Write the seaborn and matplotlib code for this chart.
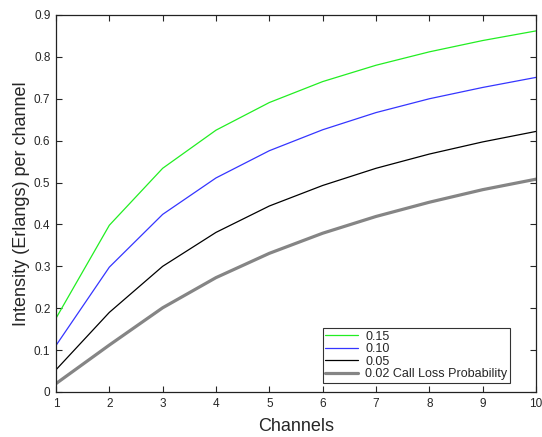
import numpy as np
import pandas as pd
import seaborn as sns
import matplotlib
matplotlib.use("Agg")
import matplotlib.pyplot as plt

# =========================
# DATA (Erlang B traffic per channel)
# =========================
channels = [1, 2, 3, 4, 5, 6, 7, 8, 9, 10]
p015 = [0.176, 0.398, 0.534, 0.625, 0.691, 0.741, 0.780, 0.812, 0.839, 0.862]
p010 = [0.111, 0.298, 0.424, 0.511, 0.576, 0.626, 0.667, 0.700, 0.727, 0.751]
p005 = [0.053, 0.190, 0.300, 0.381, 0.444, 0.493, 0.534, 0.568, 0.597, 0.622]
p002 = [0.020, 0.112, 0.201, 0.273, 0.331, 0.379, 0.419, 0.453, 0.483, 0.508]
labels = ["0.15", "0.10", "0.05", "0.02 Call Loss Probability"]
yticklabels = ["0", "0.1", "0.2", "0.3", "0.4", "0.5", "0.6", "0.7", "0.8", "0.9"]

# =========================
# VISUAL SETTINGS
# =========================
sns.set_style("ticks")
plt.rcParams["font.family"] = ["Liberation Sans", "DejaVu Sans"]

colors = ["#22ee22", "#3535ff", "#000000", "#858585"]
widths = [0.9, 0.9, 0.9, 2.3]

# =========================
# PLOT
# =========================
fig = plt.figure(figsize=(5.42, 4.37), dpi=100)
ax = fig.add_axes([0.1033, 0.103, 0.8856, 0.8627])

for vals, lab, c, w in zip([p015, p010, p005, p002], labels, colors, widths):
    df = pd.DataFrame({"Channels": channels, "Intensity": vals})
    sns.lineplot(data=df, x="Channels", y="Intensity", color=c,
                 linewidth=w, label=lab, ax=ax)

ax.set_xlim(1, 10)
ax.set_ylim(0, 0.9)
ax.set_xticks(range(1, 11))
ax.set_yticks(np.arange(0, 0.91, 0.1))
ax.set_yticklabels(yticklabels)
ax.tick_params(direction="in", top=True, right=True, labelsize=8.5,
               length=4, width=0.8, pad=4)
for s in ax.spines.values():
    s.set_visible(True)
    s.set_linewidth(0.9)
    s.set_color("#222222")

ax.set_xlabel("Channels", fontsize=13, labelpad=6)
ax.set_ylabel("Intensity (Erlangs) per channel", fontsize=13, labelpad=3)

leg = ax.legend(loc="lower right", bbox_to_anchor=(0.946, 0.024),
                fontsize=9, frameon=True, fancybox=False,
                edgecolor="black", handlelength=2.6, handletextpad=0.6,
                borderpad=0.2, labelspacing=0.05, borderaxespad=0)
leg.get_frame().set_linewidth(0.8)

plt.savefig("out.png", dpi=100)
